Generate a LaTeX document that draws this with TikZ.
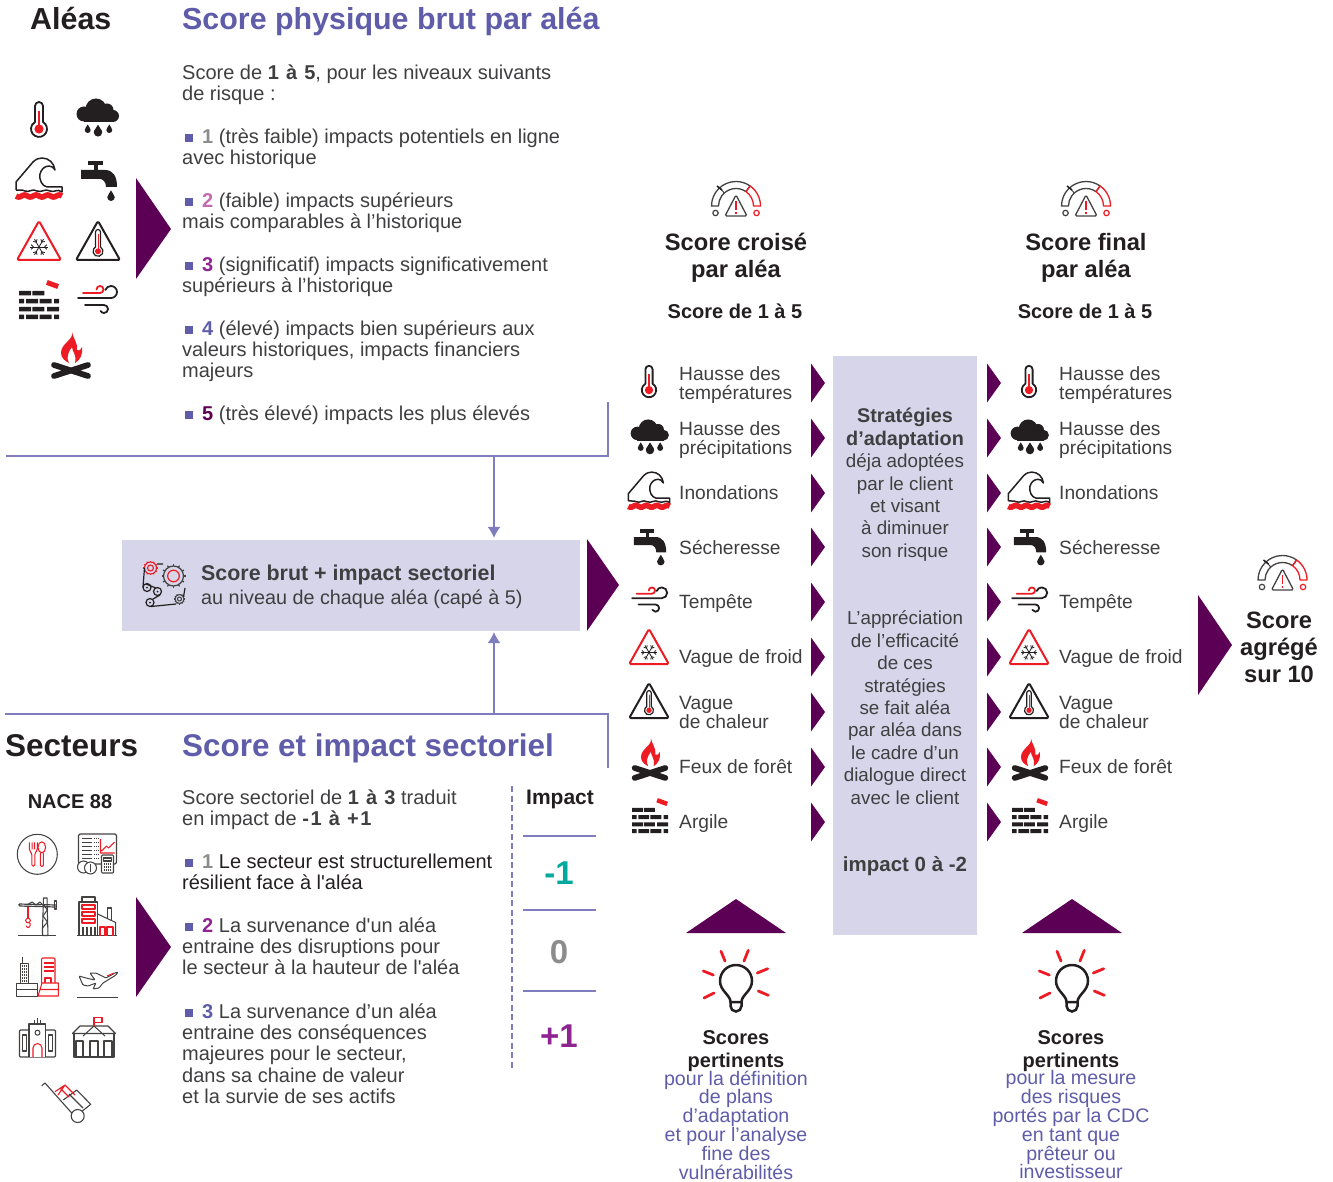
\documentclass[tikz,border=0pt]{standalone}
\usepackage{fontspec}
\setmainfont{Liberation Sans}
\usetikzlibrary{arrows.meta,calc}

\definecolor{plum}{HTML}{5C0055}
\definecolor{lavender}{HTML}{D6D5E9}
\definecolor{titleblue}{HTML}{5F5CA9}
\definecolor{ruleblue}{HTML}{7F7DBE}
\definecolor{bodygrey}{HTML}{3F3F41}
\definecolor{iconblack}{HTML}{231F20}
\definecolor{iconred}{HTML}{ED1C24}
\definecolor{scoregrey}{HTML}{8C8C8C}
\definecolor{scorepink}{HTML}{C36BAE}
\definecolor{scoremagenta}{HTML}{8E2490}
\definecolor{scoreteal}{HTML}{00A99D}

\newcommand{\fsize}[2]{\fontsize{#1}{#2}\selectfont\lineskiplimit=-20pt\relax}
\newcommand{\riskitem}[2]{\hspace*{3pt}\textcolor{titleblue}{\rule[1.5pt]{8pt}{8pt}}\hspace{9pt}\textcolor{#1}{\textbf{#2}}}
\newcommand{\widebold}[1]{{\bfseries\addfontfeatures{LetterSpace=8}#1}}

\tikzset{
  bodytext/.style={anchor=north west, inner sep=0pt, align=left, text=bodygrey, font=\fsize{20}{21.4}},
  titletext/.style={anchor=base west, inner sep=0pt, font=\fsize{30.4}{32}\bfseries},
  centretext/.style={anchor=north, inner sep=0pt, align=center, text=bodygrey, font=\fsize{18.8}{22.4}},
  headtext/.style={anchor=north, inner sep=0pt, align=center, text=iconblack, font=\fsize{23.7}{26.5}\bfseries},
  subhead/.style={anchor=base, inner sep=0pt, text=iconblack, font=\fsize{20}{22}\bfseries},
  bluetext/.style={anchor=north, inner sep=0pt, align=center, text=titleblue, font=\fsize{19.6}{18.8}},
  hazardtext/.style={anchor=west, inner sep=0pt, align=left, text=bodygrey, font=\fsize{19.2}{19}},
  impactnum/.style={anchor=base, inner sep=0pt, font=\fsize{33}{35}\bfseries},
  rulethin/.style={draw=ruleblue, line width=1.1pt},
  flowarrow/.style={rulethin, -{Latex[length=11pt,width=13pt]}},
  iconline/.style={draw=iconblack, line width=1.8pt, line join=round},
  redline/.style={draw=iconred, line width=1.8pt, line join=round},
  iconthin/.style={draw=iconblack!85, line width=1.05pt, line join=round},
  redthin/.style={draw=iconred, line width=1.05pt, line join=round},
  droplet/.pic={
    \fill[iconblack] (0,-4.5) .. controls (.6,-2.5) and (3,-1) .. (3,1) arc[start angle=0,end angle=180,radius=3] .. controls (-3,-1) and (-.6,-2.5) .. (0,-4.5) -- cycle;
  },
  thermo/.pic={
    \draw[iconline] (-4,2) -- (-4,-14) arc[start angle=180,end angle=360,radius=4] -- (4,2) arc[start angle=-60,end angle=240,radius=8] -- cycle;
    \fill[iconred] (0,9) circle (4.6);
    \draw[iconred, line width=1.3pt] (0,-9) -- (0,9);
  },
  cloud/.pic={
    \fill[iconblack] (-14,-4) circle (7.5);
    \fill[iconblack] (-2,-9) circle (10.5);
    \fill[iconblack] (9,-8) circle (6.5);
    \fill[iconblack] (15,-2) circle (6);
    \fill[iconblack] (-14,-4) rectangle (15,4);
    \pic at (-10.3,11) {droplet};
    \pic at (0,13) [scale=1.4] {droplet};
    \pic at (11.3,11) {droplet};
  },
  wave/.pic={
    \draw[iconline, line width=1.5pt] (-23,11) -- (-23,3) -- (-6,-17) .. controls (-3,-20) and (0,-21) .. (3,-21) .. controls (10,-21) and (15,-16) .. (16,-9) .. controls (14,-12) and (12,-13) .. (10,-13) .. controls (5,-13) and (2,-9) .. (1,-5) .. controls (0,1) and (3,7) .. (8,8) -- (23,8) -- (23,13) .. controls (18,9) and (16,14) .. (11,12) .. controls (6,9) and (3,14) .. (-2,12) .. controls (-7,9) and (-10,14) .. (-14,12) .. controls (-18,10) and (-20,12) .. (-23,11);
    \draw[iconred, line width=5.6pt] plot[domain=-23:23,samples=50,smooth] (\x,{17+sin(\x*31)});
  },
  tap/.pic={
    \fill[iconblack] (-11,-18.5) rectangle (4,-15);
    \fill[iconblack] (-5,-15) rectangle (-1,-10);
    \fill[iconblack] (-18,-10) -- (6,-10) .. controls (14,-10) and (18,-4) .. (18,7) -- (7,7) .. controls (7,2) and (4,-1) .. (1,-1) -- (-18,-1) -- cycle;
    \pic at (12,16) [scale=1.25] {droplet};
  },
  coldsign/.pic={
    \draw[redline, rounded corners=1.5pt, line width=2pt] (0,-20) -- (22,19) -- (-22,19) -- cycle;
    \foreach \a in {0,60,...,300} {
      \draw[iconblack, line width=.8pt] (0,6) -- ++(\a:9);
      \draw[iconblack, line width=.8pt] ($(0,6)+(\a:5.5)$) -- +(\a+45:3.2) ($(0,6)+(\a:5.5)$) -- +(\a-45:3.2);
    }
  },
  heatsign/.pic={
    \draw[iconline, rounded corners=1.5pt, line width=2pt] (0,-20) -- (22,19) -- (-22,19) -- cycle;
    \draw[iconblack, line width=1.2pt] (-2.5,6) -- (-2.5,-9) arc[start angle=180,end angle=360,radius=2.5] -- (2.5,6) arc[start angle=-60,end angle=240,radius=5] -- cycle;
    \fill[iconred] (0,10.3) circle (3);
    \draw[iconred, line width=1pt] (0,-7) -- (0,10);
  },
  brick/.pic={
    \fill[iconblack] (-20,-9) rectangle (-8,-4.5) (-6.7,-9) rectangle (5.3,-4.5);
    \foreach \ypos in {-1,14.5} {
      \fill[iconblack] (-20,\ypos) rectangle (-15,\ypos+4.5) (-13,\ypos) rectangle (-1,\ypos+4.5) (.5,\ypos) rectangle (12.5,\ypos+4.5) (15,\ypos) rectangle (20,\ypos+4.5);
    }
    \fill[iconblack] (-20,7) rectangle (-8,11.5) (-6.7,7) rectangle (5.3,11.5) (8,7) rectangle (20,11.5);
    \fill[iconred, rotate around={-20:(13.5,-15.5)}] (7.5,-18) rectangle (19.5,-13);
  },
  wind/.pic={
    \draw[redline, line cap=round] (-16,-7) -- (1,-7) arc[start angle=90,end angle=-180,radius=3.5];
    \draw[iconline, line cap=round] (-21,-2) -- (12,-2) arc[start angle=90,end angle=-160,radius=6];
    \draw[iconline, line cap=round] (-14,5) -- (5,5) arc[start angle=-90,end angle=150,radius=4];
  },
  fire/.pic={
    \draw[iconblack, line width=5.8pt, line cap=round] (-17,10) -- (17,21) (-17,21) -- (17,10);
    \fill[iconred] (1,-23) .. controls (3,-15) and (-10,-12) .. (-10,-2) .. controls (-10,3) and (-6,6) .. (-2,8) .. controls (-5,3) and (-3,-3) .. (1,-8) .. controls (1,-3) and (6,-1) .. (4,8) .. controls (9,5) and (12,0) .. (11,-8) .. controls (9,-4) and (7,-4) .. (6,-5) .. controls (7,-12) and (2,-17) .. (1,-23) -- cycle;
  },
  gauge/.pic={
    \draw[iconthin, line width=1.3pt] (-24.5,0) arc[start angle=180,end angle=305,radius=24.5] -- (305:17.5) arc[start angle=305,end angle=180,radius=17.5] -- cycle;
    \draw[iconthin, line width=1pt] (228:17.5) -- (228:24.5);
    \draw[redline, line width=1.3pt] (24.5,0) arc[start angle=360,end angle=305,radius=24.5] -- (305:17.5) arc[start angle=305,end angle=360,radius=17.5] -- cycle;
    \draw[iconblack, line width=1.5pt] (-19,-20) -- (-14,-16);
    \draw[iconthin, line width=1.3pt, rounded corners=1.5pt] (0,-11) -- (11,10) -- (-11,10) -- cycle;
    \draw[iconred, line width=1.2pt] (0,-5) -- (0,4) (0,6) -- (0,8);
    \draw[iconthin, line width=1.2pt] (-20.5,7) circle (2.7);
    \draw[redline, line width=1.2pt] (20.5,7) circle (2.7);
  },
  bulb/.pic={
    \draw[iconblack, line width=2.5pt, line join=round] (-5.5,20) .. controls (-5.5,13) and (-16,9) .. (-16,-1) arc[start angle=180,end angle=360,radius=16] .. controls (16,9) and (5.5,13) .. (5.5,20) -- cycle;
    \draw[iconblack, line width=2.5pt] (-5.5,20) -- (-5.5,24) arc[start angle=180,end angle=0,radius=5.5] -- (5.5,20);
    \draw[iconred, line width=2.8pt, line cap=round] (-15,-30.7) -- (-11,-21) (12.3,-31.7) -- (8,-21) (-32.7,-11) -- (-22.7,-7) (31.7,-13.3) -- (21.3,-9) (-32,16) -- (-22,11) (32.3,13.3) -- (22.3,9);
  },
  cog/.pic={
    \draw[pic actions] (0,0) circle (10);
    \foreach \a in {0,30,...,330} {\draw[pic actions] (\a:10) -- (\a:12);}
  },
  gears/.pic={
    \pic[iconthin, line width=1.2pt] at (8.5,-9) {cog};
    \draw[redline, line width=1.2pt] (8.5,-9) circle (5.8);
    \pic[redthin, line width=1.1pt, scale=.6] at (-14.5,-17) {cog};
    \draw[redline, line width=1.1pt] (-14.5,-17) circle (3);
    \pic[iconthin, scale=.45] at (14.5,14) {cog};
    \draw[iconthin] (14.5,14) circle (2);
    \draw[iconline, line width=1.2pt] (-18,2.5) circle (4) (-7.5,6.5) circle (4) (-15,17.5) circle (4);
    \fill[iconblack] (-18,2.5) circle (1) (-7.5,6.5) circle (1) (-15,17.5) circle (1);
    \draw[iconline, line width=1.2pt] (-20.5,-17) -- (-22,2) (-8,-21) -- (-2,-21) (-14,21.5) -- (11,19) (18.5,12) -- (20,3) (-19,-1) -- (-9,3) (-5,10) -- (-12,14);
  },
  cutlery/.pic={
    \draw[iconthin] (0,0) circle (20);
    \draw[redthin, rounded corners=1.5pt] (-8,-12) -- (-8,-4) -- (-5.5,-1) -- (-5.5,12) -- (-2.5,12) -- (-2.5,-1) -- (0,-4) -- (0,-12) (-5.2,-12) -- (-5.2,-5) (-2.8,-12) -- (-2.8,-5);
    \draw[redthin] (4.5,-7) ellipse [x radius=3.8,y radius=5.5];
    \draw[redthin, rounded corners=1pt] (3,-1.8) -- (3,12) -- (6,12) -- (6,-1.8);
  },
  ledger/.pic={
    \draw[iconthin, rounded corners=1.5pt, line width=1.1pt] (-19,-20) rectangle (19,10);
    \foreach \ypos in {-16,-12,...,4} {\draw[iconthin, line width=1pt] (-16,\ypos) -- (-6,\ypos); \draw[iconthin, line width=1pt, dash pattern=on 1pt off 1pt] (-4,\ypos) -- (1,\ypos);}
    \draw[redthin] (3,-15) -- (3,-1) -- (17,-1) (4,-3) -- (9,-8) -- (11,-6) -- (17,-12);
    \draw[iconthin, fill=white, rounded corners=1pt] (4,1) rectangle (16,19);
    \draw[iconthin, dash pattern=on 1pt off 1pt, line width=1.5pt] (6,10) -- (14,10) (6,13) -- (14,13) (6,16) -- (14,16);
    \draw[iconthin] (6,4) rectangle (14,7);
    \draw[iconthin, fill=white] (-14,13) circle (6);
    \draw[iconthin, fill=white] (-7,14) circle (6);
    \draw[iconthin] (-7,10) -- (-7,18);
  },
  crane/.pic={
    \draw[iconthin, line width=1.2pt] (-19,19.5) -- (19,19.5);
    \draw[iconthin] (5.5,19.5) -- (5.5,12) -- (6.5,-18) -- (10,-18) -- (11,19.5) -- (5.5,19.5);
    \draw[iconthin] (5.5,12) -- (10.5,6) -- (6,0) -- (10.3,-6) -- (6.5,-12);
    \draw[iconthin, line width=1.2pt, rounded corners=1pt] (-18,-12) -- (19,-11) (-18,-12) -- (-18,-10) -- (19,-9);
    \draw[iconthin] (-10,-11) -- (-5,-14) -- (-1,-11) -- (3,-14) -- (6,-11);
    \draw[iconthin] (17.5,-15) rectangle (19.5,-7);
    \draw[redthin] (-9,-9) -- (-9,2);
    \draw[redthin] (-9,4.5) circle (2.3);
    \draw[redthin] (-7,7) .. controls (-6,11) and (-9,13) .. (-11,10);
  },
  plant/.pic={
    \draw[iconthin, line width=1.2pt] (-20,19.5) -- (20,19.5);
    \draw[iconthin] (-18,19.5) -- (-18,-14) -- (.7,-14) -- (.7,19.5);
    \draw[iconthin] (-15,-14) -- (-15,-19) -- (-2,-19) -- (-2,-14);
    \foreach \ypos in {-11,-4,3} {\draw[redthin] (-15,\ypos) rectangle (-2,\ypos+4);}
    \foreach \xpos in {-14,-10,-6,-2} {\draw[iconthin] (\xpos,11) -- (\xpos,19.5);}
    \draw[iconthin] (.7,-2) -- (18.7,6.5) -- (18.7,19.5);
    \draw[iconthin] (10.3,3) -- (10.3,-8) -- (14.7,-8) -- (14.7,5);
    \draw[redthin] (3,19.5) -- (3,11) -- (8,11) -- (8,19.5) (10,19.5) -- (10,11) -- (16,11) -- (16,19.5);
  },
  towers/.pic={
    \draw[iconthin, line width=1pt] (-17,6) -- (-17,-14) -- (-8.7,-14) -- (-8.7,6) (-15,-14) -- (-15,-20);
    \foreach \ypos in {-11,-8,...,4} {\draw[iconthin, dash pattern=on 1pt off 1pt] (-15.5,\ypos) -- (-10,\ypos);}
    \draw[iconthin, line width=1pt] (-21,19) rectangle (0,6) (-21,12.5) -- (0,12.5);
    \draw[redthin, rounded corners=1pt] (4.7,6) -- (4.7,-19) -- (18,-19) -- (18,6);
    \foreach \ypos in {-14,-10,-6} {\draw[redthin] (6.5,\ypos) -- (16.5,\ypos);}
    \draw[redthin] (8,6) -- (8,1) -- (14,1) -- (14,6);
    \draw[redthin] (1,19) -- (5,6) -- (21.3,6) -- (21.3,19) -- cycle (3,12.5) -- (21.3,12.5);
  },
  plane/.pic={
    \draw[iconthin, line width=1.2pt] (-21,14.5) -- (20,14.5);
    \draw[iconthin, line width=1pt, rounded corners=.8pt] (-19,-7) -- (-12,-5) -- (-3,-3) -- (-8,-10) -- (-2,-10) -- (8,-5) -- (17,-10) -- (20,-11) -- (18,-8) -- (5,0) -- (1,5) -- (-5,6) -- (-2,0) -- (-10,3) -- (-15,2) -- cycle;
    \draw[redthin] (9,-7) -- (16,-10);
  },
  cityhall/.pic={
    \draw[iconthin, line width=1.1pt, rounded corners=1pt] (-18,-8) rectangle (18,19);
    \draw[iconthin, line width=1.1pt, fill=white] (-8.5,19) -- (-8.5,-14) -- (8,-14) -- (8,19);
    \draw[iconthin] (-15,-3) rectangle (-11,13) (11,-3) rectangle (15,13);
    \draw[iconthin] (0,-5.3) circle (2.5);
    \draw[iconthin] (0,-20) -- (0,-14) (-3,-18) -- (-3,-14) (3,-18) -- (3,-14);
    \draw[redthin] (-4.5,19) -- (-4.5,10) arc[start angle=180,end angle=360,radius=4.5] -- (4.5,19);
  },
  station/.pic={
    \draw[iconthin, line width=1.1pt] (-21.5,-4.5) -- (-14,-12) -- (14,-12) -- (21.5,-4.5) -- cycle;
    \draw[iconthin, line width=1.1pt] (-20,-4.5) -- (-20,19) -- (20,19) -- (20,-4.5);
    \draw[iconthin] (-18,19) -- (-18,3) -- (-11,3) -- (-11,19) (-4,19) -- (-4,3) -- (4,3) -- (4,19) (10,19) -- (10,3) -- (18,3) -- (18,19);
    \draw[iconthin] (-11,-2) -- (0,-12) -- (11,-2);
    \draw[redthin] (0,-12) -- (0,-20.5) -- (8,-20.5) -- (8,-15.5) -- (0,-15.5);
  },
  trolley/.pic={
    \draw[iconthin, line width=1.1pt] (-24.3,-17.3) -- (-21,-20) -- (5.7,10);
    \draw[iconthin, line width=1.1pt] (-2.7,-3) -- (10.7,-13) -- (24.7,1.3) -- (11.3,12);
    \draw[iconthin, line width=1.1pt] (3,-9) -- (17,5);
    \draw[redthin, line width=1.1pt] (-11,-11.3) -- (-1,-18) -- (9,-8) (-6,-15) -- (3,-6) (-1,-18) -- (-8,-8);
    \draw[iconthin, line width=1.1pt, fill=white] (11.7,13) circle (6.5);
  }
}

\begin{document}
\begin{tikzpicture}[x=1pt, y=-1pt]
\useasboundingbox (0,0) rectangle (1333,1182);

% big boxes
\fill[lavender] (833,356) rectangle (977,935);
\node[fill=lavender, inner sep=0pt, minimum width=458pt, minimum height=91pt] (brut) at (351,585.5) {};

% frames and links to the box
\coordinate (topstart) at (608,402);
\coordinate (topcorner) at (608,456);
\coordinate (topend) at (6,456);
\coordinate (topjoin) at (494,456);
\coordinate (lowstart) at (608,768);
\coordinate (lowcorner) at (608,714);
\coordinate (lowend) at (5,714);
\coordinate (lowjoin) at (494,714);
\draw[rulethin] (topstart) -- (topcorner) -- (topend);
\draw[rulethin] (lowstart) -- (lowcorner) -- (lowend);
\draw[flowarrow, shorten >=2pt] (topjoin) -- (topjoin |- brut.north);
\draw[flowarrow, shorten >=1pt] (lowjoin) -- (lowjoin |- brut.south);

% titles
\node[titletext, text=iconblack] (aleas) at (30,30) {Aléas};
\node[titletext, text=titleblue] (brutitle) at (182,30) {Score physique brut par aléa};
\node[titletext, text=iconblack, font=\fsize{31.5}{33}\bfseries] (secteurs) at (5,756) {Secteurs};
\node[titletext, text=titleblue, font=\fsize{31.4}{33}\bfseries] (sectitle) at (182,756) {Score et impact sectoriel};

% risk levels
\node[bodytext] (intro) at (182,64) {\strut Score de \widebold{1 à 5}, pour les niveaux suivants\\de risque :};
\node[bodytext] (level1) at (182,128) {\strut\riskitem{scoregrey}{1} (très faible) impacts potentiels en ligne\\avec historique};
\node[bodytext] (level2) at (182,192) {\strut\riskitem{scorepink}{2} (faible) impacts supérieurs\\mais comparables à l’historique};
\node[bodytext] (level3) at (182,256) {\strut\riskitem{scoremagenta}{3} (significatif) impacts significativement\\supérieurs à l’historique};
\node[bodytext] (level4) at (182,320) {\strut\riskitem{titleblue}{4} (élevé) impacts bien supérieurs aux\\valeurs historiques, impacts financiers\\majeurs};
\node[bodytext] (level5) at (182,405) {\strut\riskitem{plum}{5} (très élevé) impacts les plus élevés};

% sector levels
\node[bodytext] (secintro) at (182,789) {\strut Score sectoriel de \widebold{1 à 3} traduit\\en impact de \widebold{-1 à +1}};
\node[bodytext, text=iconblack] (sec1) at (182,853) {\strut\riskitem{scoregrey}{1} Le secteur est structurellement\\résilient face à l\textquotesingle aléa};
\node[bodytext] (sec2) at (182,917) {\strut\riskitem{scoremagenta}{2} La survenance d\textquotesingle un aléa\\entraine des disruptions pour\\le secteur à la hauteur de l\textquotesingle aléa};
\node[bodytext] (sec3) at (182,1003) {\strut\riskitem{titleblue}{3} La survenance d’un aléa\\entraine des conséquences\\majeures pour le secteur,\\dans sa chaine de valeur\\et la survie de ses actifs};
\node[subhead] (nace) at (70,808) {NACE 88};

% impact scale
\draw[rulethin, dash pattern=on 6pt off 3.5pt] (512,786) -- (512,1068);
\node[subhead, font=\fsize{21}{23}\bfseries] (impact) at (560,804) {Impact};
\draw[rulethin] (523,836) -- (596,836);
\draw[rulethin] (523,910) -- (596,910);
\draw[rulethin] (523,991) -- (596,991);
\node[impactnum, text=scoreteal] (minusone) at (559,884) {-1};
\node[impactnum, text=scoregrey] (zero) at (559,963) {0};
\node[impactnum, text=scoremagenta] (plusone) at (559,1047) {+1};

% left icons
\pic at (39,120) {thermo};
\pic at (98,118) {cloud};
\pic at (39,179) {wave};
\pic at (99,180) {tap};
\pic at (39,241) {coldsign};
\pic at (98,241) {heatsign};
\pic at (39,300) {brick};
\pic at (99,300) {wind};
\pic at (71,355) {fire};

\pic at (37.3,854.3) {cutlery};
\pic at (97.5,854) {ledger};
\pic at (37,916) {crane};
\pic at (97,916) {plant};
\pic at (37,977) {towers};
\pic at (98,983) {plane};
\pic at (37.5,1038) {cityhall};
\pic at (94,1038) {station};
\pic at (66,1103) {trolley};

% big triangles
\fill[plum] (136,178) -- (171,229) -- (136,279) -- cycle;
\fill[plum] (136,897) -- (171,947) -- (136,997) -- cycle;
\fill[plum] (587,539) -- (619,585) -- (587,631) -- cycle;
\fill[plum] (1198,595) -- (1232,645) -- (1198,695) -- cycle;
\fill[plum] (686,933) -- (736,899) -- (786,933) -- cycle;
\fill[plum] (1022,933) -- (1072,899) -- (1122,933) -- cycle;

% box text
\pic at (165,585) {gears};
\node[bodytext, text=bodygrey] (brutext) at (201,565) {\strut\fsize{21.4}{24}\textbf{Score brut + impact sectoriel}\\[2.5pt]\fsize{19.8}{21.4}au niveau de chaque aléa (capé à 5)};

% score columns
\foreach \colname/\colx/\tipx/\headx/\headone in {croise/0/811/736/croisé, final/380/987/1086/final} {
  \pic at (\headx,206) {gauge};
  \node[headtext] (head\colname) at (\headx,232) {\strut Score \headone\\par aléa};
  \node[subhead] (range\colname) at (\headx-1,318) {Score de 1 à 5};
  \foreach \hazard/\iconx/\icony/\rowy/\texty/\hazardlabel in {
      thermo/649/382/383/385/{Hausse des\\températures},
      cloud/650/437/438/440/{Hausse des\\précipitations},
      wave/649/491/493/495.6/{Inondations},
      tap/650/546/547/550.6/{Sécheresse},
      wind/651/600/602/604.6/{Tempête},
      coldsign/649/647/657/659.6/{Vague de froid},
      heatsign/649/701/712/712.6/{Vague\\de chaleur},
      fire/650/759/767/769.6/{Feux de forêt},
      brick/650/816/822/824.6/{Argile}} {
    \pic[scale=.9] at (\iconx+\colx,\icony) {\hazard};
    \node[hazardtext] (\hazard\colname) at (679+\colx,\texty) {\strut\hazardlabel};
    \fill[plum] (\tipx,\rowy-19.5) -- (\tipx+14,\rowy) -- (\tipx,\rowy+19.5) -- cycle;
  }
}

% middle column
\node[centretext] (strat) at (905,407) {\strut\fsize{19.8}{22.4}\textbf{Stratégies}\\\fsize{19.8}{22.4}\textbf{d’adaptation}\\déja adoptées\\par le client\\et visant\\à diminuer\\son risque};
\node[centretext] (appre) at (905,609) {\strut L’appréciation\\de l’efficacité\\de ces\\stratégies\\se fait aléa\\par aléa dans\\le cadre d’un\\dialogue direct\\avec le client};
\node[subhead, text=bodygrey, font=\fsize{20.5}{22}\bfseries] (minustwo) at (905,871) {impact 0 à -2};

% bottom
\pic at (736,982) {bulb};
\pic at (1072,982) {bulb};
\node[centretext, text=iconblack, font=\fsize{20}{22.5}\bfseries] (pertone) at (736,1029) {\strut Scores\\pertinents};
\node[bluetext] (useone) at (736,1070.5) {\strut pour la définition\\de plans\\d’adaptation\\et pour l’analyse\\fine des\\vulnérabilités};
\node[centretext, text=iconblack, font=\fsize{20}{22.5}\bfseries] (perttwo) at (1071,1029) {\strut Scores\\pertinents};
\node[bluetext] (usetwo) at (1071,1070.5) {\strut pour la mesure\\des risques\\portés par la CDC\\en tant que\\prêteur ou\\investisseur};

% final score
\pic at (1282.5,580) {gauge};
\node[headtext, font=\fsize{23.7}{26.7}\bfseries] (agrege) at (1279,610) {\strut Score\\agrégé\\sur 10};
\end{tikzpicture}
\end{document}
